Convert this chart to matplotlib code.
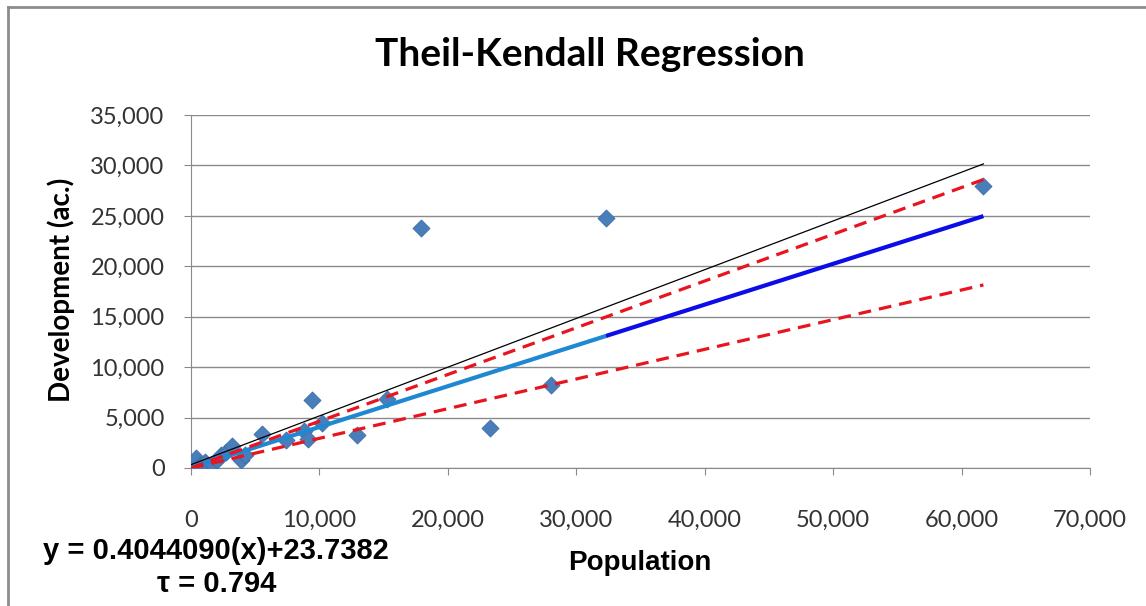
import matplotlib.pyplot as plt
from matplotlib.lines import Line2D
from matplotlib.ticker import FuncFormatter

# observed points (population vs developed acres)
population = [0, 200, 400, 700, 1100, 1600, 2000, 2300, 2700, 3200, 3900, 4200,
              5500, 7400, 8800, 9100, 9400, 10200, 12900, 15300, 17900, 23300,
              28000, 32300, 61700]
development = [0, 500, 1000, 300, 600, 400, 800, 1300, 1600, 2200, 800, 1300,
               3400, 2800, 3700, 2900, 6700, 4500, 3300, 6800, 23800, 4000,
               8200, 24800, 28000]

# Theil-Kendall fit
slope = 0.4044090
intercept = 23.7382
tau = 0.794
fit_x_low = [0, 32300]
fit_x_high = [32300, 61700]

# reference / confidence lines (end points)
line_x = [0, 61700]
ols_y = [330, 30150]
upper_y = [0, 28600]
lower_y = [0, 18150]

W, H = 1146, 606
fig = plt.figure(figsize=(W / 100, H / 100), dpi=100)
ax = fig.add_axes([191 / W, 1 - 468 / H, (1090 - 191) / W, (468 - 115) / H])

ax.scatter(population, development, marker='D', s=75, color='#4a7ebb',
           edgecolors='#3d6da6', linewidths=0.6, zorder=3)

ax.plot(line_x, ols_y, color='black', lw=0.9, zorder=4)
ax.plot(line_x, upper_y, color='#e8141e', lw=2.3, ls=(0, (4, 2.5)), zorder=5)
ax.plot(line_x, lower_y, color='#e8141e', lw=2.3, ls=(0, (4, 2.5)), zorder=5)
ax.plot(fit_x_low, [slope * x + intercept for x in fit_x_low],
        color='#1f88d2', lw=3, solid_capstyle='butt', zorder=4)
ax.plot(fit_x_high, [slope * x + intercept for x in fit_x_high],
        color='#0c0ce8', lw=3, solid_capstyle='butt', zorder=4)

ax.set_xlim(0, 70000)
ax.set_ylim(0, 35000)
ax.set_xticks(range(0, 70001, 10000))
ax.set_yticks(range(0, 35001, 5000))
fmt = FuncFormatter(lambda v, p: f'{int(v):,}')
ax.xaxis.set_major_formatter(fmt)
ax.yaxis.set_major_formatter(fmt)

ax.grid(axis='y', color='#8a8a8a', lw=1)
ax.set_axisbelow(True)
for s in ['top', 'right']:
    ax.spines[s].set_visible(False)
for s in ['left', 'bottom']:
    ax.spines[s].set_color('#8a8a8a')
ax.tick_params(axis='both', direction='out', length=5, color='#8a8a8a',
               labelsize=17, labelcolor='#333333')
ax.tick_params(axis='x', pad=25)
ax.tick_params(axis='y', pad=14)
for lab in ax.get_xticklabels() + ax.get_yticklabels():
    lab.set_family('Lato')
ax.set_facecolor('none')

fig.text(590 / W, 1 - 55 / H, 'Theil-Kendall Regression', ha='center', va='center',
         family='Lato', weight='bold', fontsize=28)
fig.text(61 / W, 1 - 290 / H, 'Development (ac.)', ha='center', va='center',
         rotation=90, family='Lato', weight='bold', fontsize=20)
fig.text(640 / W, 1 - 563 / H, 'Population', ha='center', va='center',
         family='Liberation Sans', weight='bold', fontsize=20)
fig.text(216 / W, 1 - 551 / H, f'y = {slope:.7f}(x)+{intercept:.4f}', ha='center',
         va='center', family='Liberation Sans', weight='bold', fontsize=21)
fig.text(217 / W, 1 - 584 / H, f'\u03c4 = {tau:.3f}', ha='center', va='center',
         family=['Liberation Sans', 'DejaVu Sans'], weight='bold', fontsize=21)

# chart frame
fig.add_artist(Line2D([8 / W, 8 / W], [0, 1 - 7 / H], transform=fig.transFigure,
                      color='#8c8c8c', lw=2))
fig.add_artist(Line2D([8 / W, 1], [1 - 7 / H, 1 - 7 / H], transform=fig.transFigure,
                      color='#8c8c8c', lw=2))

fig.savefig('out.png', dpi=100, facecolor='white')
